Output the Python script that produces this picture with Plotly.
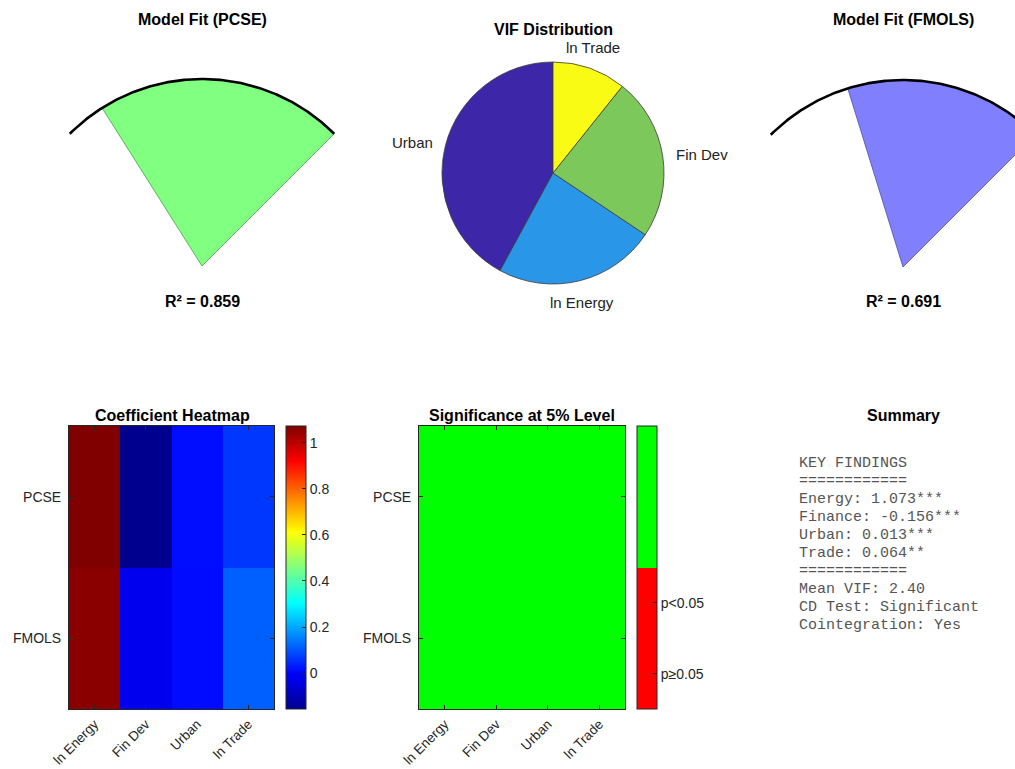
import numpy as np
import plotly.graph_objects as go

# ---- data ---------------------------------------------------------------
variables = ["ln Energy", "Fin Dev", "Urban", "ln Trade"]
models = ["PCSE", "FMOLS"]

coef_pcse = [1.073, -0.156, 0.013, 0.064]
coef_fmols = [1.061, -0.025, 0.011, 0.112]

sig_pcse = [1, 1, 1, 1]
sig_fmols = [1, 1, 1, 1]

r2_values = [0.859, 0.691]
r2_models = ["PCSE", "FMOLS"]

vif_labels = ["Urban", "ln Energy", "Fin Dev", "ln Trade"]
vif_values = [4.04, 2.26, 2.27, 1.03]

summary_names = ["Energy", "Finance", "Urban", "Trade"]
summary_stars = ["***", "***", "***", "**"]
cd_test = "Significant"
cointegration = "Yes"

# ---- page geometry (pixels) --------------------------------------------
W, H = 1015, 769


def px(x):
    return x / W


def py(y):
    return 1 - y / H


FONT = "Liberation Sans, Arial, sans-serif"
MONO = "Liberation Mono, Courier New, monospace"
TXT = "#262626"

fig = go.Figure()
annotations = []


def add_text(x, y, text, size=15, bold=False, color=TXT, xanchor="center",
             yanchor="middle", family=FONT):
    annotations.append(dict(
        x=px(x), y=py(y), xref="paper", yref="paper", showarrow=False,
        text=f"<b>{text}</b>" if bold else text, xanchor=xanchor,
        yanchor=yanchor, font=dict(family=family, size=size, color=color)))


# ---- gauges: R² as a share of a 90° arc ---------------------------------
GAUGE_SCALE = 187.0  # pixels per unit radius
gauges = [
    dict(cx=202, cy=266, box=(20, 384, 40, 292), fill="#80FF80",
         edge="#4C9A4C", ax="x", ay="y"),
    dict(cx=903, cy=267, box=(745, 1015, 40, 292), fill="#8080FF",
         edge="#4C4CA0", ax="x2", ay="y2"),
]
layout_axes = {}
for i, (g, r2, name) in enumerate(zip(gauges, r2_values, r2_models)):
    arc_t = np.radians(np.linspace(45, 135, 181))
    end_deg = 45 + 90 * r2
    wedge_t = np.radians(np.linspace(45, end_deg, 181))
    wx = np.concatenate([[0], np.cos(wedge_t), [0]])
    wy = np.concatenate([[0], np.sin(wedge_t), [0]])
    fig.add_trace(go.Scatter(x=wx, y=wy, mode="lines", fill="toself",
                             fillcolor=g["fill"],
                             line=dict(color=g["edge"], width=0.8),
                             xaxis=g["ax"], yaxis=g["ay"], hoverinfo="skip",
                             showlegend=False))
    fig.add_trace(go.Scatter(x=np.cos(arc_t), y=np.sin(arc_t), mode="lines",
                             line=dict(color="black", width=2.6),
                             xaxis=g["ax"], yaxis=g["ay"], hoverinfo="skip",
                             showlegend=False))
    x0, x1, y0, y1 = g["box"]
    s = GAUGE_SCALE
    suffix = "" if i == 0 else str(i + 1)
    layout_axes["xaxis" + suffix] = dict(
        domain=[px(x0), px(x1)], range=[(x0 - g["cx"]) / s, (x1 - g["cx"]) / s],
        visible=False, fixedrange=True, automargin=False)
    layout_axes["yaxis" + suffix] = dict(
        domain=[py(y1), py(y0)], range=[(g["cy"] - y1) / s, (g["cy"] - y0) / s],
        visible=False, fixedrange=True, automargin=False)
    add_text(g["cx"], 19, f"Model Fit ({name})", size=16, bold=True,
             color="black")
    add_text(g["cx"], 301, f"R² = {r2:.3f}", size=16, bold=True,
             color="black")

# ---- VIF pie: first slice starts at 12 o'clock, slices run anticlockwise --
PIE_CX, PIE_CY, PIE_R = 553, 173, 111
parula4 = ["#3E26A8", "#2A96E8", "#7DC85A", "#F9FB15"]
total = float(np.sum(vif_values))
first_share_deg = 360.0 * vif_values[0] / total
fig.add_trace(go.Pie(
    labels=vif_labels, values=vif_values, sort=False,
    direction="counterclockwise", rotation=-first_share_deg,
    textinfo="none",
    marker=dict(colors=parula4, line=dict(color="#3A3A3A", width=0.8)),
    domain=dict(x=[px(PIE_CX - PIE_R), px(PIE_CX + PIE_R)],
                y=[py(PIE_CY + PIE_R), py(PIE_CY - PIE_R)]),
    showlegend=False, hoverinfo="label+value"))
add_text(PIE_CX, 29, "VIF Distribution", size=16, bold=True, color="black")

cum = 0.0
for lab, v in zip(vif_labels, vif_values):
    mid = np.radians(90 + 360 * (cum + v / 2) / total)
    cum += v
    c, sn = np.cos(mid), np.sin(mid)
    lx = PIE_CX + 1.1 * PIE_R * c
    ly = PIE_CY - 1.1 * PIE_R * sn
    if abs(sn) > abs(c):
        xa, ya = "center", ("bottom" if sn > 0 else "top")
    else:
        xa, ya = ("left" if c > 0 else "right"), "middle"
    add_text(lx, ly, lab, size=15, color="#222222", xanchor=xa, yanchor=ya)

# ---- heatmaps -----------------------------------------------------------
jet = [[0.0, "#00008F"], [0.125, "#0000FF"], [0.375, "#00FFFF"],
       [0.625, "#FFFF00"], [0.875, "#FF0000"], [1.0, "#800000"]]
sig_scale = [[0.0, "#FF0000"], [0.5, "#FF0000"], [0.5, "#00FF00"],
             [1.0, "#00FF00"]]

HM_TOP, HM_BOT = 426, 709
hm_len = HM_BOT - HM_TOP
cb_common = dict(thickness=20, thicknessmode="pixels", len=hm_len,
                 lenmode="pixels", y=py((HM_TOP + HM_BOT) / 2),
                 yanchor="middle", xanchor="left", xpad=0, ypad=0,
                 outlinewidth=1, outlinecolor=TXT, ticks="inside", ticklen=4,
                 tickcolor=TXT, tickfont=dict(family=FONT, size=14, color=TXT))

fig.add_trace(go.Heatmap(
    z=[coef_pcse, coef_fmols], x=variables, y=models, colorscale=jet,
    xaxis="x3", yaxis="y3",
    colorbar=dict(x=px(286), tick0=0, dtick=0.2, **cb_common)))

fig.add_trace(go.Heatmap(
    z=[sig_pcse, sig_fmols], x=variables, y=models, colorscale=sig_scale,
    zmin=0, zmax=1, xaxis="x4", yaxis="y4",
    colorbar=dict(x=px(637), tickmode="array", tickvals=[0.125, 0.375],
                  ticktext=["p≥0.05", "p<0.05"], **cb_common)))

hm_axis = dict(showline=True, linecolor=TXT, linewidth=1, mirror="ticks",
               ticks="inside", ticklen=4, tickcolor=TXT, showgrid=False,
               zeroline=False, fixedrange=True, automargin=False)
tick14 = dict(family=FONT, size=14, color=TXT)
for suffix, (x0, x1) in (("3", (69, 274)), ("4", (419, 625))):
    layout_axes["xaxis" + suffix] = dict(
        domain=[px(x0), px(x1)], anchor="y" + suffix, tickangle=-45,
        ticklabelstandoff=1,
        tickfont=dict(family=FONT, size=13.5, color=TXT), **hm_axis)
    layout_axes["yaxis" + suffix] = dict(
        domain=[py(HM_BOT), py(HM_TOP)], anchor="x" + suffix,
        autorange="reversed", ticklabelstandoff=4, tickfont=tick14,
        **hm_axis)

add_text(172, 415, "Coefficient Heatmap", size=16, bold=True, color="black")
add_text(522, 415, "Significance at 5% Level", size=16, bold=True,
         color="black")

# ---- summary text -------------------------------------------------------
add_text(903, 415, "Summary", size=16, bold=True, color="black")
rule = "=" * 12
lines = ["KEY FINDINGS", rule]
for nm, val, st in zip(summary_names, coef_pcse, summary_stars):
    lines.append(f"{nm}: {val:.3f}{st}")
lines += [rule, f"Mean VIF: {np.mean(vif_values):.2f}",
          f"CD Test: {cd_test}", f"Cointegration: {cointegration}"]
for k, line in enumerate(lines):
    add_text(797, 463 + 18.1 * k, line, size=15, color="#555555",
             xanchor="left", family=MONO)

fig.update_layout(
    width=W, height=H, margin=dict(l=0, r=0, t=0, b=0, autoexpand=False),
    paper_bgcolor="white", plot_bgcolor="white",
    annotations=annotations, **layout_axes)

fig.write_html("out.html")
